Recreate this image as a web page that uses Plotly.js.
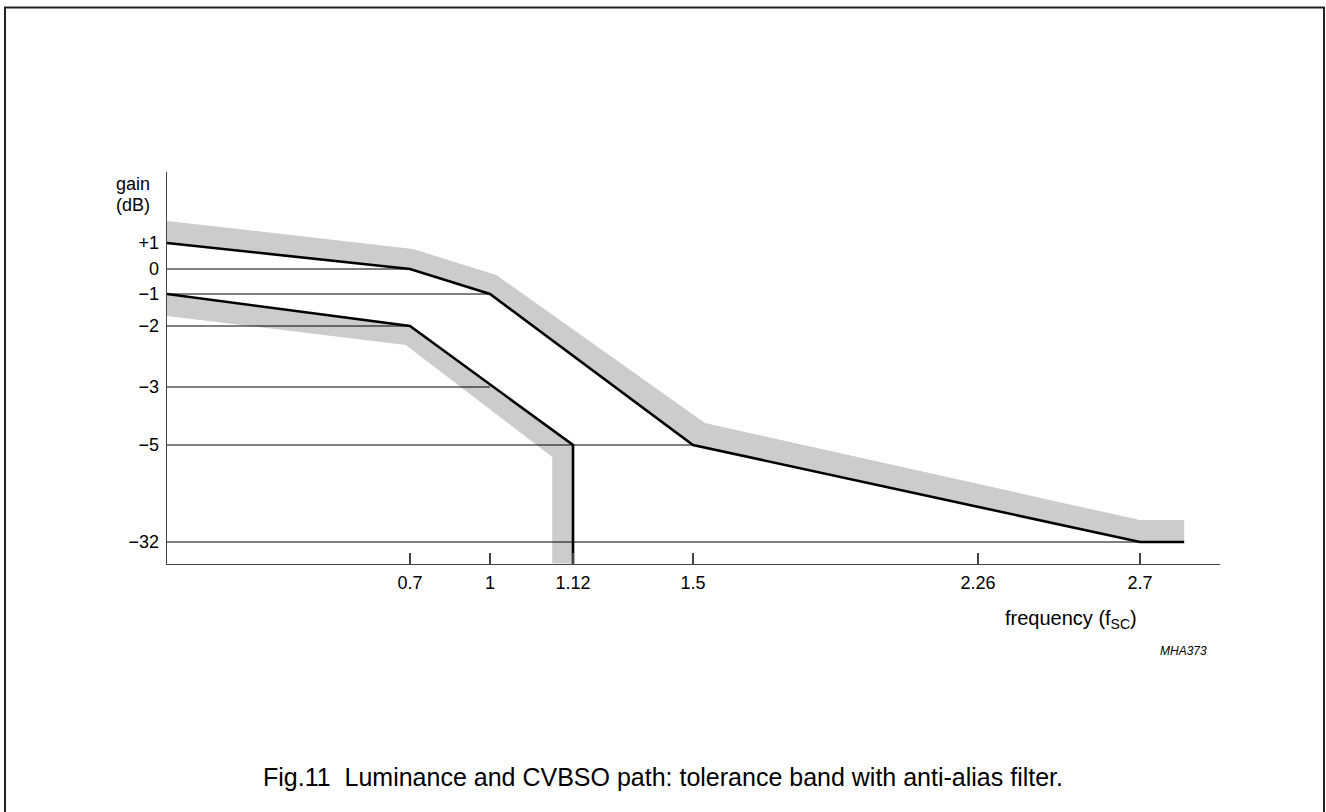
<!DOCTYPE html>
<html><head><meta charset="utf-8">
<script src="https://cdn.plot.ly/plotly-3.0.1.min.js"></script>
<style>html,body{margin:0;padding:0;background:#fff;} #chart{width:1326px;height:812px;}</style>
</head><body><div id="chart"></div>
<script>
// ---------------- data ----------------
const freqTicks = [0.7, 1, 1.12, 1.5, 2.26, 2.7];
const freqTickText = ['0.7', '1', '1.12', '1.5', '2.26', '2.7'];
const gainTicks = [1, 0, -1, -2, -3, -5, -32];
const gainTickText = ['+1', '0', '\u22121', '\u22122', '\u22123', '\u22125', '\u221232'];

// upper limit line (black) and its tolerance band outer edge (grey)
const upperFreq = [0, 0.7, 1, 1.5, 2.7, 2.82];
const upperGain = [1, 0, -1, -5, -32, -32];
const upperBandFreq = [0, 0.711, 1.009, 1.532, 2.70, 2.82];
const upperBandGain = [1.85, 0.77, -0.24, -4.24, -25.9, -25.9];

// lower limit line (black) and its tolerance band outer edge (grey)
const lowerFreq = [0, 0.7, 1.12, 1.12];
const lowerGain = [-1, -2, -5, -38];
const lowerBandFreq = [0, 0.688, 1.09, 1.09];
const lowerBandGain = [-1.69, -2.31, -8.34, -38];

// thin reference lines from the gain axis to the break points
const refGain = [0, -1, -2, -3, -5, -32];
const refEndFreq = [0.7, 1, 0.7, 1, 1.5, 2.7];

// ---------------- schematic (non-linear) axis scales ----------------
const FREQ_KNOTS = [0, 0.7, 1, 1.12, 1.5, 2.26, 2.7];
const FREQ_AXIS  = [0, 243, 323, 406, 526, 811, 973];
const GAIN_KNOTS = [-32, -5, -3, -2, -1, 0, 1];
const GAIN_AXIS  = [22, 119, 177, 238, 270, 295, 321];

function interp(v, ks, ps) {
  let i = 0;
  if (v <= ks[0]) i = 0;
  else if (v >= ks[ks.length - 1]) i = ks.length - 2;
  else { while (!(v >= ks[i] && v <= ks[i + 1])) i++; }
  const t = (v - ks[i]) / (ks[i + 1] - ks[i]);
  return ps[i] + t * (ps[i + 1] - ps[i]);
}
const fx = f => interp(f, FREQ_KNOTS, FREQ_AXIS);
const gy = g => interp(g, GAIN_KNOTS, GAIN_AXIS);

// ---------------- layout geometry ----------------
const W = 1326, H = 812;
const L = 167, T = 172, PW = 1053, PH = 392;
const px = x => (x - L) / PW;
const py = y => (T + PH - y) / PH;
const FONT = 'Liberation Sans, Arial, Helvetica, sans-serif';

const traces = [];
// grey tolerance bands
traces.push({
  x: upperBandFreq.map(fx).concat(upperFreq.slice().reverse().map(fx)),
  y: upperBandGain.map(gy).concat(upperGain.slice().reverse().map(gy)),
  mode: 'lines', fill: 'toself', fillcolor: '#cccccc',
  line: {width: 0, color: '#cccccc'}, hoverinfo: 'skip', showlegend: false
});
traces.push({
  x: lowerBandFreq.map(fx).concat(lowerFreq.slice().reverse().map(fx)),
  y: lowerBandGain.map(gy).concat(lowerGain.slice().reverse().map(gy)),
  mode: 'lines', fill: 'toself', fillcolor: '#cccccc',
  line: {width: 0, color: '#cccccc'}, hoverinfo: 'skip', showlegend: false
});
// reference lines
refGain.forEach((g, i) => {
  traces.push({
    x: [fx(0), fx(refEndFreq[i])], y: [gy(g), gy(g)],
    mode: 'lines', line: {color: '#000', width: 1}, hoverinfo: 'skip', showlegend: false
  });
});
// black limit lines
traces.push({
  x: upperFreq.map(fx), y: upperGain.map(gy), mode: 'lines',
  line: {color: '#000', width: 2.6}, showlegend: false
});
traces.push({
  x: lowerFreq.map(fx), y: lowerGain.map(gy), mode: 'lines',
  line: {color: '#000', width: 2.6}, showlegend: false
});

const layout = {
  width: W, height: H,
  margin: {l: L, r: W - L - PW, t: T, b: H - T - PH, pad: 0},
  paper_bgcolor: '#fff', plot_bgcolor: '#fff',
  font: {family: FONT, size: 18, color: '#000'},
  showlegend: false,
  xaxis: {
    range: [0, PW], showgrid: false, zeroline: false,
    showline: true, linecolor: '#444', linewidth: 1.4,
    tickmode: 'array', tickvals: freqTicks.map(fx), ticktext: freqTickText,
    ticks: 'inside', ticklen: 11, tickwidth: 1.3, tickcolor: '#444',
    tickfont: {family: FONT, size: 18, color: '#000'},
    ticklabelstandoff: 2, fixedrange: true
  },
  yaxis: {
    range: [0, PH], showgrid: false, zeroline: false,
    showline: true, linecolor: '#444', linewidth: 1.4,
    tickmode: 'array', tickvals: gainTicks.map(gy), ticktext: gainTickText,
    ticks: '', tickfont: {family: FONT, size: 18, color: '#000'},
    ticklabelstandoff: 3, fixedrange: true
  },
  shapes: [{
    type: 'rect', xref: 'paper', yref: 'paper',
    x0: px(5), x1: px(1324), y0: py(830), y1: py(7.5),
    line: {color: '#222', width: 2}, fillcolor: 'rgba(0,0,0,0)', layer: 'below'
  }],
  annotations: [
    {xref: 'paper', yref: 'paper', x: px(114), y: py(184), xanchor: 'left', yanchor: 'middle',
     text: 'gain', showarrow: false, font: {family: FONT, size: 18}},
    {xref: 'paper', yref: 'paper', x: px(114), y: py(205), xanchor: 'left', yanchor: 'middle',
     text: '(dB)', showarrow: false, font: {family: FONT, size: 18}},
    {xref: 'paper', yref: 'paper', x: px(1003), y: py(619), xanchor: 'left', yanchor: 'middle',
     text: 'frequency (f<sub>SC</sub>)', showarrow: false, font: {family: FONT, size: 20}},
    {xref: 'paper', yref: 'paper', x: px(1209), y: py(651), xanchor: 'right', yanchor: 'middle',
     text: '<i>MHA373</i>', showarrow: false, font: {family: FONT, size: 12}},
    {xref: 'paper', yref: 'paper', x: px(261), y: py(777), xanchor: 'left', yanchor: 'middle',
     text: 'Fig.11  Luminance and CVBSO path: tolerance band with anti-alias filter.',
     showarrow: false, font: {family: FONT, size: 25}}
  ]
};

Plotly.newPlot('chart', traces, layout, {displayModeBar: false, staticPlot: true});
</script>
</body></html>
